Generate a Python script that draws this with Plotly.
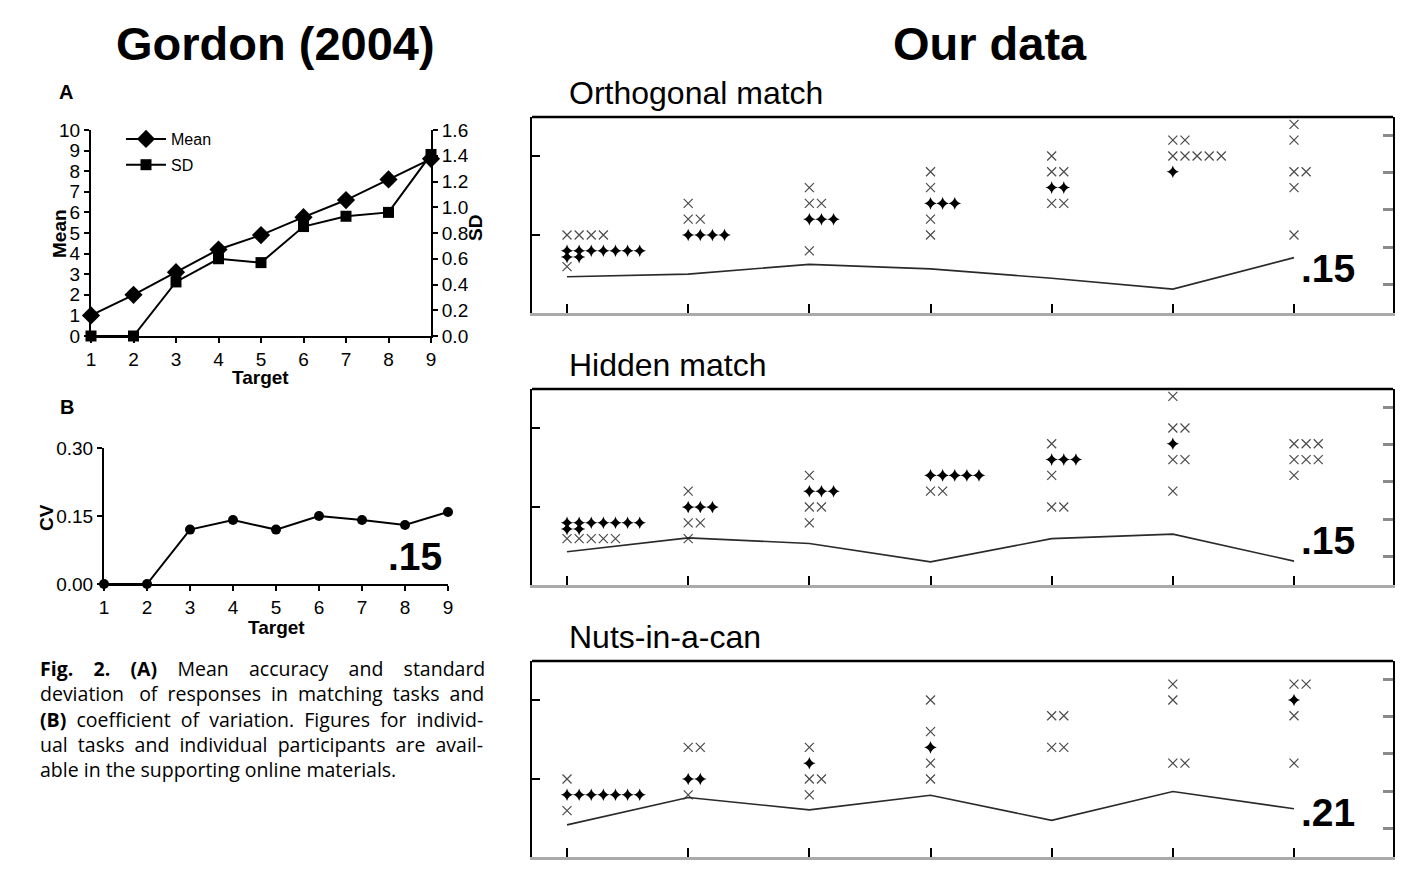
import plotly.graph_objects as go

W, H = 1410, 886
PAGE_OFF = 8  # the page puts the figure 8 px in from the top-left corner


def px(x):
    return (x - PAGE_OFF) / W


def py(y):
    return 1 - (y - PAGE_OFF) / H


# ---------------- Gordon (2004), panels A and B
targets = [1, 2, 3, 4, 5, 6, 7, 8, 9]
gordon_mean = [1.0, 2.0, 3.1, 4.2, 4.9, 5.77, 6.6, 7.6, 8.6]
gordon_sd = [0.0, 0.0, 0.42, 0.60, 0.57, 0.85, 0.93, 0.96, 1.41]
gordon_cv = [0.0, 0.0, 0.12, 0.141, 0.12, 0.15, 0.141, 0.13, 0.159]
gordon_cv_label = ".15"

# ---------------- Our data: (target position, response, count)
positions = [1, 2, 3, 4, 5, 6, 7]
task_names = ["Orthogonal match", "Hidden match", "Nuts-in-a-can"]
task_cv_labels = [".15", ".15", ".21"]

ortho_cross = [(1, 5, 4), (1, 3, 1), (2, 7, 1), (2, 6, 2), (3, 8, 1), (3, 7, 2), (3, 4, 1),
               (4, 9, 1), (4, 8, 1), (4, 6, 1), (4, 5, 1), (5, 10, 1), (5, 9, 2), (5, 7, 2),
               (6, 11, 2), (6, 10, 5), (7, 12, 1), (7, 11, 1), (7, 9, 2), (7, 8, 1), (7, 5, 1)]
ortho_diamond = [(1, 4, 7), (1, 3.6, 2), (2, 5, 4), (3, 6, 3), (4, 7, 3), (5, 8, 2), (6, 9, 1)]
ortho_cv = [0.122, 0.129, 0.155, 0.143, 0.118, 0.089, 0.173]

hidden_cross = [(1, 3, 5), (2, 6, 1), (2, 4, 2), (2, 3, 1), (3, 7, 1), (3, 5, 2), (3, 4, 1),
                (4, 6, 2), (5, 9, 1), (5, 7, 1), (5, 5, 2), (6, 12, 1), (6, 10, 2), (6, 8, 2),
                (6, 6, 1), (7, 9, 3), (7, 8, 3), (7, 7, 1)]
hidden_diamond = [(1, 4, 7), (1, 3.6, 2), (2, 5, 3), (3, 6, 3), (4, 7, 5), (5, 8, 3), (6, 9, 1)]
hidden_cv = [0.114, 0.151, 0.136, 0.087, 0.149, 0.161, 0.089]

nuts_cross = [(1, 5, 1), (1, 3, 1), (2, 7, 2), (2, 4, 1), (3, 7, 1), (3, 5, 2), (3, 4, 1),
              (4, 10, 1), (4, 8, 1), (4, 6, 1), (4, 5, 1), (5, 9, 2), (5, 7, 2), (6, 11, 1),
              (6, 10, 1), (6, 6, 2), (7, 11, 2), (7, 9, 1), (7, 6, 1)]
nuts_diamond = [(1, 4, 7), (2, 5, 2), (3, 6, 1), (4, 7, 1), (7, 10, 1)]
nuts_cv = [0.111, 0.184, 0.151, 0.190, 0.123, 0.200, 0.154]

caption_lines = [
    "Fig. 2. (A) Mean accuracy and standard",
    "deviation of responses in matching tasks and",
    "(B) coefficient of variation. Figures for individ-",
    "ual tasks and individual participants are avail-",
    "able in the supporting online materials.",
]
caption_bold = {"Fig.", "2.", "(A)", "(B)"}

FONT = "Liberation Sans, Arial, sans-serif"
CAP_FONT = "Open Sans"


def expand(rows, step=0.1):
    xs, ys = [], []
    for pos, val, n in rows:
        for k in range(n):
            xs.append(pos + k * step)
            ys.append(val)
    return xs, ys


fig = go.Figure()

# panel A
fig.add_trace(go.Scatter(x=targets, y=gordon_mean, mode="lines+markers", name="Mean",
                         line=dict(color="black", width=2), cliponaxis=False,
                         marker=dict(symbol="diamond", size=14, color="black"),
                         xaxis="x", yaxis="y", legendgroup="m"))
fig.add_trace(go.Scatter(x=targets, y=gordon_sd, mode="lines+markers", name="SD",
                         line=dict(color="black", width=2), cliponaxis=False,
                         marker=dict(symbol="square", size=11, color="black"),
                         xaxis="x", yaxis="y2", legendgroup="s"))
# panel B
fig.add_trace(go.Scatter(x=targets, y=gordon_cv, mode="lines+markers", showlegend=False,
                         line=dict(color="black", width=2), cliponaxis=False,
                         marker=dict(symbol="circle", size=10, color="black"),
                         xaxis="x2", yaxis="y3"))

tasks = [
    (ortho_cross, ortho_diamond, ortho_cv),
    (hidden_cross, hidden_diamond, hidden_cv),
    (nuts_cross, nuts_diamond, nuts_cv),
]
panel_tops = [117, 389, 661]
panel_h = 196
XL, XR = 532, 1393

annotations = []
shapes = []
layout_axes = {}

for i, (cross, diamond, cv) in enumerate(tasks):
    xn = f"x{3 + i}"
    yl = f"y{4 + 2 * i}"
    yr = f"y{5 + 2 * i}"
    top = panel_tops[i]
    bot = top + panel_h

    fig.add_trace(go.Scatter(x=positions, y=cv, mode="lines", showlegend=False,
                             line=dict(color="#2a2a2a", width=1.6),
                             xaxis=xn, yaxis=yr))
    cx, cy = expand(cross)
    fig.add_trace(go.Scatter(x=cx, y=cy, mode="markers", showlegend=False,
                             marker=dict(symbol="x-thin", size=9,
                                         line=dict(color="#4a4a4a", width=1.2)),
                             xaxis=xn, yaxis=yl))
    dx, dy = expand(diamond)
    fig.add_trace(go.Scatter(x=dx, y=dy, mode="markers", showlegend=False,
                             marker=dict(symbol="star-diamond", size=9, color="black"),
                             xaxis=xn, yaxis=yl))

    layout_axes["xaxis" + str(3 + i)] = dict(
        domain=[px(XL), px(XR)], anchor=yl, range=[0.711, 7.817],
        tickvals=positions, ticks="inside", ticklen=9, tickwidth=2, tickcolor="black",
        showticklabels=False, showline=True, linecolor="#aaaaaa", linewidth=3,
        showgrid=False, zeroline=False)
    layout_axes["yaxis" + str(4 + 2 * i)] = dict(
        domain=[py(bot), py(top)], anchor=xn, range=[0.063, 12.468],
        tickvals=[5, 10], ticks="inside", ticklen=8, tickwidth=2, tickcolor="black",
        showticklabels=False, showline=True, linecolor="black", linewidth=2,
        showgrid=False, zeroline=False)
    layout_axes["yaxis" + str(5 + 2 * i)] = dict(
        overlaying=yl, side="right", anchor=xn, range=[0.0253, 0.548],
        tickvals=[0.1, 0.2, 0.3, 0.4, 0.5], ticks="inside", ticklen=10, tickwidth=3,
        tickcolor="#8a8a8a", showticklabels=False, showline=True, linecolor="black",
        linewidth=2, showgrid=False, zeroline=False)

    shapes.append(dict(type="line", xref=xn + " domain", yref=yl + " domain",
                       x0=0, x1=1, y0=1, y1=1, line=dict(color="black", width=2.5)))
    annotations.append(dict(text=task_names[i], x=px(567), y=py(top - 24), xref="paper",
                            yref="paper", xanchor="left", yanchor="middle", showarrow=False,
                            font=dict(family=FONT, size=32, color="black")))
    annotations.append(dict(text=f"<b>{task_cv_labels[i]}</b>", x=px(1328), y=py(top + 151),
                            xref="paper", yref="paper", xanchor="center", yanchor="middle",
                            showarrow=False, font=dict(family=FONT, size=39, color="black")))

tick_font = dict(family=FONT, size=19, color="black")
left_axis = dict(showline=True, linecolor="black", linewidth=2, ticks="outside",
                 ticklen=5, tickwidth=2, tickcolor="black", showgrid=False,
                 zeroline=False, tickfont=tick_font)

layout_axes["xaxis"] = dict(left_axis, domain=[px(91), px(431)], anchor="y", range=[1, 9],
                            tickvals=targets)
layout_axes["yaxis"] = dict(left_axis, domain=[py(336), py(130)], anchor="x", range=[0, 10],
                            dtick=1)
layout_axes["yaxis2"] = dict(left_axis, overlaying="y", side="right", anchor="x",
                             range=[0, 1.6], dtick=0.2, tickformat=".1f")
layout_axes["xaxis2"] = dict(left_axis, domain=[px(104), px(448)], anchor="y3", range=[1, 9],
                             tickvals=targets)
layout_axes["yaxis3"] = dict(left_axis, domain=[py(584), py(448)], anchor="x2",
                             range=[0, 0.3], tickvals=[0, 0.15, 0.3], tickformat=".2f")


def txt(text, x, y, size, bold=False, angle=0, anchor="center", family=FONT, align="center"):
    annotations.append(dict(text=f"<b>{text}</b>" if bold else text, x=px(x), y=py(y),
                            xref="paper", yref="paper", xanchor=anchor, yanchor="middle",
                            showarrow=False, textangle=angle, align=align,
                            font=dict(family=family, size=size, color="black")))


txt("Gordon (2004)", 275, 44, 47, bold=True)
txt("Our data", 990, 44, 47, bold=True)
txt("A", 66, 92, 20, bold=True)
txt("B", 67, 407, 20, bold=True)
txt("Target", 260, 377, 19, bold=True)
txt("Target", 276, 627, 19, bold=True)
txt("Mean", 59, 233, 19, bold=True, angle=-90)
txt("SD", 476, 228, 19, bold=True, angle=-90)
txt("CV", 46, 518, 19, bold=True, angle=-90)
txt(f"<b>{gordon_cv_label}</b>", 415, 556, 39)

# caption: one block, lines justified with no-break spaces
W_REG = {" ": .26, ".": .266, ",": .245, "-": .322, "(": .296, ")": .296, "2": .572,
         "A": .633, "B": .648, "F": .516, "M": .903, "a": .556, "b": .613, "c": .476,
         "d": .613, "e": .561, "f": .339, "g": .548, "h": .614, "i": .253, "j": .253,
         "k": .525, "l": .253, "m": .93, "n": .614, "o": .604, "p": .613, "q": .613,
         "r": .408, "s": .477, "t": .353, "u": .614, "v": .501, "w": .778, "x": .524,
         "y": .502, "z": .478}
CAP_SIZE = 19.5
CAP_L, CAP_R = 38, 482
NBSP = "\u00a0"


def word_width(w, bold):
    return sum(W_REG.get(c, 0.55) for c in w) * CAP_SIZE * (1.07 if bold else 1.0)


cap_rows = []
for li, line in enumerate(caption_lines):
    words = line.split(" ")
    widths = [word_width(w, w in caption_bold) for w in words]
    ngap = len(words) - 1
    sp = W_REG[" "] * CAP_SIZE
    if li == len(caption_lines) - 1:
        counts = [1] * ngap
    else:
        total = max(ngap, round((CAP_R - CAP_L - sum(widths)) / sp))
        counts = [total // ngap + (1 if k < total % ngap else 0) for k in range(ngap)]
    parts = []
    for k, w in enumerate(words):
        parts.append(f"<b>{w}</b>" if w in caption_bold else w)
        if k < ngap:
            parts.append(NBSP * counts[k])
    cap_rows.append("".join(parts))
txt("<br>".join(cap_rows), CAP_L, 719, CAP_SIZE, anchor="left", family=CAP_FONT, align="left")

fig.update_layout(
    width=W, height=H, margin=dict(l=0, r=0, t=0, b=0, autoexpand=False),
    paper_bgcolor="white", plot_bgcolor="rgba(0,0,0,0)",
    showlegend=True,
    legend=dict(x=px(121), y=py(122), xanchor="left", yanchor="top",
                bgcolor="rgba(0,0,0,0)", font=dict(family=FONT, size=16, color="black"),
                traceorder="grouped", tracegroupgap=2, itemwidth=40),
    annotations=annotations, shapes=shapes,
    **layout_axes,
)

fig.write_html("out.html")
